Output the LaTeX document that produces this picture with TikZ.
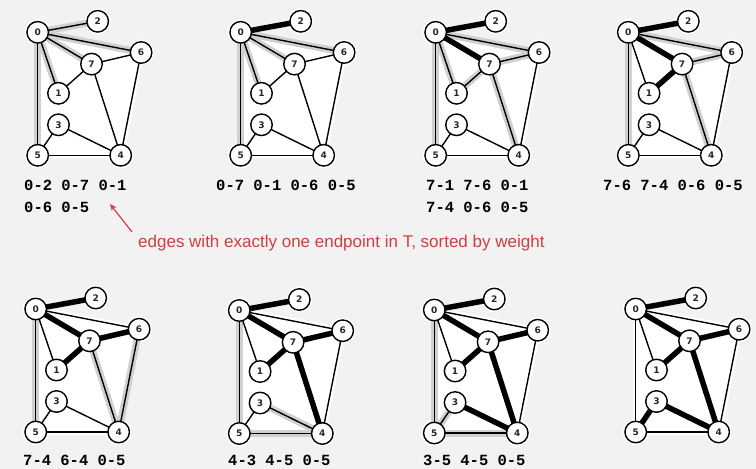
\documentclass[tikz,border=0pt]{standalone}
\usepackage{fontspec}
\setmainfont{Liberation Sans}
\newfontfamily\codefont{Liberation Mono}
\newfontfamily\vertfont{DejaVu Sans}
\usetikzlibrary{arrows.meta}
\definecolor{bg}{RGB}{242,242,242}
\definecolor{note}{RGB}{204,64,64}
\definecolor{band}{RGB}{208,208,208}
\pgfdeclarelayer{base}
\pgfdeclarelayer{halo}
\pgfdeclarelayer{band}
\pgfdeclarelayer{edges}
\pgfsetlayers{base,halo,band,edges,main}
\tikzset{
  x=1pt, y=-1pt,
  vert/.style={circle, draw=black, line width=1.4pt, fill=white, minimum size=21.5pt,
    inner sep=0pt, font=\vertfont\bfseries\fontsize{9}{9}\selectfont, text=black!85},
  vhalo/.style={circle, fill=white, minimum size=26pt, inner sep=0pt},
  plain/.style={line width=1.4pt, black},
  treeedge/.style={line width=5.5pt, black},
  pqband/.style={line width=7pt, band},
  halo/.style={line width=6pt, white},
  pq/.style={font=\codefont\bfseries\fontsize{15.5}{22}\selectfont, anchor=base west, inner sep=0pt},
}
% one drawing of the graph: #1 name prefix, #2 position of vertex 0,
% #3 tree edges, #4 edges in the priority queue
\newcommand{\graphpanel}[4]{%
  \begin{scope}[shift={(#2)}]
    \foreach \v/\px/\py in {0/0/0, 1/20.8/61, 2/60/-11, 3/20.8/92.5,
                            4/83/123, 5/0/123, 6/103.4/20.2, 7/53.8/31.8}{
      \node[vert] (#1\v) at (\px,\py) {\v};
      \begin{pgfonlayer}{halo}
        \node[vhalo] at (\px,\py) {};
      \end{pgfonlayer}
    }
  \end{scope}
  \begin{pgfonlayer}{halo}
    \fill[white] (#10.center) -- (#16.center) -- (#14.center) -- (#15.center) -- cycle;
    \foreach \a/\b in {0/2,0/7,0/1,0/6,0/5,1/7,7/6,7/4,6/4,3/5,3/4,5/4}
      \draw[halo] (#1\a.center) -- (#1\b.center);
  \end{pgfonlayer}
  \begin{pgfonlayer}{band}
    \foreach \a/\b in {#4}
      \draw[pqband] (#1\a.center) -- (#1\b.center);
  \end{pgfonlayer}
  \begin{pgfonlayer}{edges}
    \foreach \a/\b in {0/2,0/7,0/1,0/6,0/5,1/7,7/6,7/4,6/4,3/5,3/4,5/4}
      \draw[plain] (#1\a.center) -- (#1\b.center);
    \foreach \a/\b in {#3}
      \draw[treeedge] (#1\a.center) -- (#1\b.center);
  \end{pgfonlayer}
}

\begin{document}
\begin{tikzpicture}
  \useasboundingbox (0,0) rectangle (756,469);
  \begin{pgfonlayer}{base}
    \fill[bg] (0,0) rectangle (756,469);
  \end{pgfonlayer}

  % top row
  \graphpanel{a}{37.7,32.3}{}{0/2,0/7,0/1,0/6,0/5}
  \graphpanel{b}{240.7,32.3}{0/2}{0/7,0/1,0/6,0/5}
  \graphpanel{c}{435.7,32.3}{0/2,0/7}{7/1,7/6,0/1,7/4,0/6,0/5}
  \graphpanel{d}{628.3,32.3}{0/2,0/7,7/1}{7/6,7/4,0/6,0/5}
  % bottom row
  \graphpanel{e}{35.7,309}{0/2,0/7,7/1,7/6}{7/4,6/4,0/5}
  \graphpanel{f}{239.3,310.5}{0/2,0/7,7/1,7/6,7/4}{4/3,4/5,0/5}
  \graphpanel{g}{434.3,310}{0/2,0/7,7/1,7/6,7/4,4/3}{3/5,4/5,0/5}
  \graphpanel{h}{635.7,309}{0/2,0/7,7/1,7/6,7/4,4/3,3/5}{}

  % priority queue contents under each drawing
  \node[pq] (qa1) at (24,190.7) {0-2 0-7 0-1};
  \node[pq] (qa2) at (24,212.7) {0-6 0-5};
  \node[pq] (qb1) at (216,190.7) {0-7 0-1 0-6 0-5};
  \node[pq] (qc1) at (426,190.7) {7-1 7-6 0-1};
  \node[pq] (qc2) at (426,212.7) {7-4 0-6 0-5};
  \node[pq] (qd1) at (603,190.7) {7-6 7-4 0-6 0-5};
  \node[pq] (qe1) at (23,465.5) {7-4 6-4 0-5};
  \node[pq] (qf1) at (228,465.5) {4-3 4-5 0-5};
  \node[pq] (qg1) at (423,465.5) {3-5 4-5 0-5};

  % annotation
  \node[text=note, font=\fontsize{17}{20}\selectfont, anchor=west, inner sep=0pt]
    (note) at (138,243) {edges with exactly one endpoint in T, sorted by weight};
  \coordinate (tail) at (132,232);
  \coordinate (tip) at (110,204);
  \draw[note, line width=1.2pt, -{Stealth[length=7pt,width=6pt]}] (tail) -- (tip);
\end{tikzpicture}
\end{document}
